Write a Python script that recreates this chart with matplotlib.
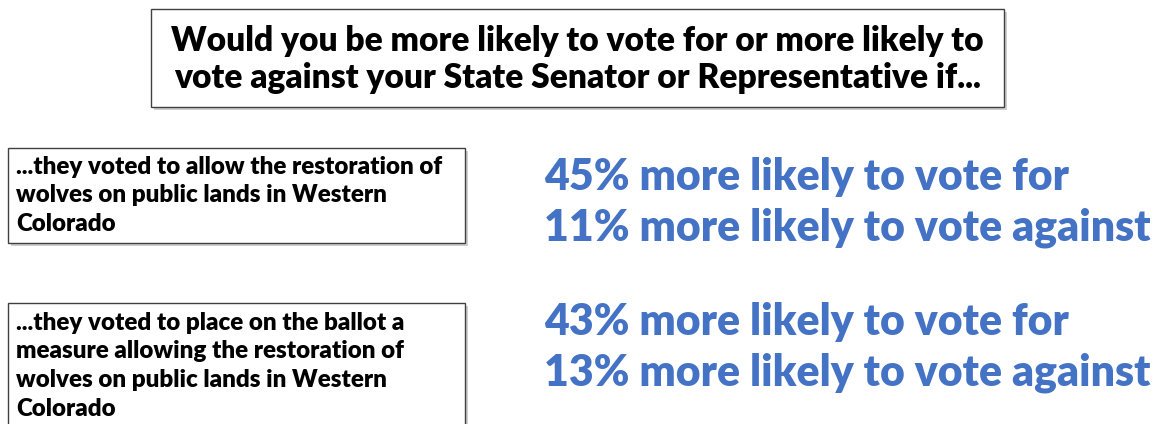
import matplotlib.pyplot as plt
from matplotlib.patches import Rectangle

# Text content
title_lines = ["Would you be more likely to vote for or more likely to",
               "vote against your State Senator or Representative if..."]
question_1 = ["...they voted to allow the restoration of",
              "wolves on public lands in Western",
              "Colorado"]
question_2 = ["...they voted to place on the ballot a",
              "measure allowing the restoration of",
              "wolves on public lands in Western",
              "Colorado"]
pct_for = [45, 43]
pct_against = [11, 13]

blue = '#4472C4'
font = 'Lato'

fig = plt.figure(figsize=(11.56, 4.24), dpi=100)
ax = fig.add_axes([0, 0, 1, 1])
ax.set_xlim(0, 1156)
ax.set_ylim(424, 0)
ax.axis('off')


def shadow_box(x, y, w, h):
    ax.add_patch(Rectangle((x + 3, y + 3), w, h, facecolor='#b0b0b0',
                           edgecolor='none', alpha=0.6, zorder=1))
    ax.add_patch(Rectangle((x, y), w, h, facecolor='white',
                           edgecolor='#404040', linewidth=1.0, zorder=2))


# Title box
shadow_box(151, 9, 853, 98)
for i, line in enumerate(title_lines):
    ax.text(577, 41 + i * 37, line, ha='center', va='center', fontsize=24.1,
            fontweight='heavy', family=font, color='black', zorder=3)

# Question boxes
shadow_box(8, 148, 457, 95)
for i, line in enumerate(question_1):
    ax.text(16, 167 + i * 28.5, line, ha='left', va='center', fontsize=17.4,
            fontweight='heavy', family=font, color='black', zorder=3)

shadow_box(8, 303, 457, 140)
for i, line in enumerate(question_2):
    ax.text(16, 323 + i * 28.5, line, ha='left', va='center', fontsize=17.4,
            fontweight='heavy', family=font, color='black', zorder=3)

# Result text
for y0, f, a in zip([177, 322], pct_for, pct_against):
    ax.text(544, y0, f"{f}% more likely to vote for", ha='left', va='center',
            fontsize=30.8, fontweight='heavy', family=font, color=blue, zorder=3)
    ax.text(544, y0 + 51, f"{a}% more likely to vote against", ha='left', va='center',
            fontsize=30.8, fontweight='heavy', family=font, color=blue, zorder=3)

fig.savefig('out.png', dpi=100)
